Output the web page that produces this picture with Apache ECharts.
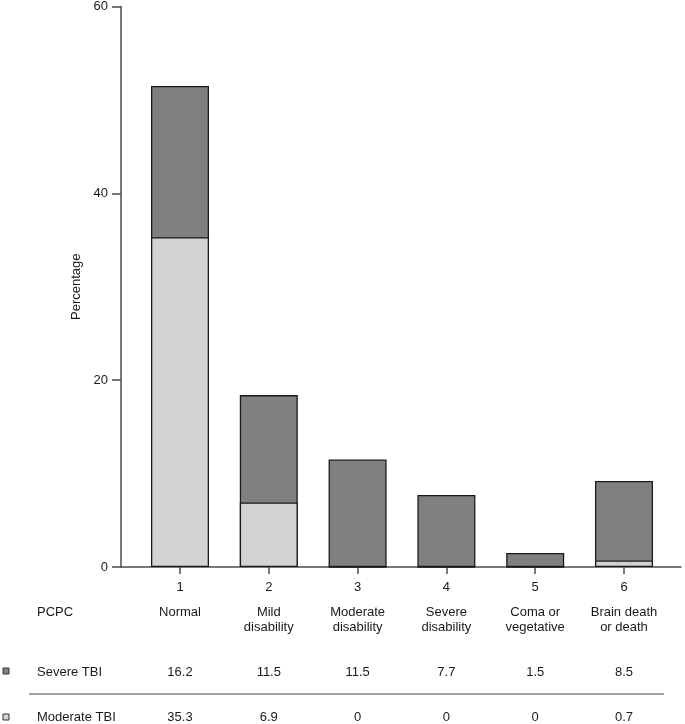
<!DOCTYPE html>
<html>
<head>
<meta charset="utf-8">
<script src="https://cdn.jsdelivr.net/npm/echarts@6/dist/echarts.min.js"></script>
<style>html,body{margin:0;padding:0;background:#fff}#c{width:685px;height:724px}</style>
</head>
<body>
<div id="c"></div>
<script>
var positions = [1, 2, 3, 4, 5, 6];
var pcpcNames = ['Normal', 'Mild\ndisability', 'Moderate\ndisability', 'Severe\ndisability', 'Coma or\nvegetative', 'Brain death\nor death'];
var severeTBI = [16.2, 11.5, 11.5, 7.7, 1.5, 8.5];
var moderateTBI = [35.3, 6.9, 0, 0, 0, 0.7];
var yTicks = [0, 20, 40, 60];
var rowHeader = 'PCPC';
var seriesNames = ['Severe TBI', 'Moderate TBI'];

var FONT = '"Liberation Sans", Arial, sans-serif';
var DARK = '#808080', LIGHT = '#d3d3d3', EDGE = '#1a1a1a', TXT = '#1a1a1a';

var chart = echarts.init(document.getElementById('c'), null, {renderer: 'canvas'});

// Stacked look: the severe segment sits on top of the moderate segment,
// so the dark bar spans 0..(moderate+severe) and the light bar 0..moderate is drawn over it.
var stackedTop = positions.map(function (p, i) { return [p, +(moderateTBI[i] + severeTBI[i]).toFixed(2)]; });
var lower = positions.map(function (p, i) { return [p, moderateTBI[i]]; });

chart.setOption({
  animation: false,
  backgroundColor: '#fff',
  grid: {left: 121, right: 4, top: 6, bottom: 157, containLabel: false},
  xAxis: {
    type: 'value', min: 0.3356, max: 6.642,
    splitLine: {show: false},
    axisLine: {show: true, lineStyle: {color: '#4d4d4d', width: 1.5}},
    axisTick: {show: true, length: 7, customValues: positions, lineStyle: {color: '#4d4d4d', width: 1.5}},
    axisLabel: {show: true, customValues: positions, margin: 14, fontSize: 13, color: TXT, fontFamily: FONT}
  },
  yAxis: {
    type: 'value', min: yTicks[0], max: yTicks[yTicks.length - 1], interval: 20,
    name: 'Percentage', nameLocation: 'middle', nameGap: 33,
    nameTextStyle: {fontSize: 13, color: TXT, fontFamily: FONT},
    splitLine: {show: false},
    axisLine: {show: true, lineStyle: {color: '#4d4d4d', width: 1.5}},
    axisTick: {show: true, length: 9, lineStyle: {color: '#4d4d4d', width: 1.5}},
    axisLabel: {margin: 13, fontSize: 13, color: TXT, fontFamily: FONT}
  },
  series: [
    {name: seriesNames[0], type: 'bar', barWidth: 58, barGap: '-100%', data: stackedTop, z: 2,
     itemStyle: {color: DARK, borderColor: EDGE, borderWidth: 1.3}},
    {name: seriesNames[1], type: 'bar', barWidth: 58, barGap: '-100%', data: lower, z: 3,
     itemStyle: {color: LIGHT, borderColor: EDGE, borderWidth: 1.3}}
  ]
});

var g = [];
var ts = function (t, x, y, align, extra) {
  var s = {text: t, x: x, y: y, fill: TXT, font: '13px ' + FONT, align: align || 'center', verticalAlign: 'middle'};
  if (extra) for (var k in extra) s[k] = extra[k];
  return {type: 'text', style: s, silent: true};
};
g.push(ts(rowHeader, 37, 612, 'left'));
g.push(ts(seriesNames[0], 37, 672, 'left'));
g.push(ts(seriesNames[1], 37, 717, 'left'));
g.push({type: 'rect', shape: {x: 3, y: 668, width: 6, height: 6}, style: {fill: DARK, stroke: '#333', lineWidth: 1}});
g.push({type: 'rect', shape: {x: 3, y: 714, width: 6, height: 6}, style: {fill: LIGHT, stroke: '#333', lineWidth: 1}});
g.push({type: 'line', shape: {x1: 29, y1: 694, x2: 664, y2: 694}, style: {stroke: '#444', lineWidth: 1.2}});
positions.forEach(function (p, i) {
  var px = chart.convertToPixel({xAxisIndex: 0}, p);
  g.push(ts(pcpcNames[i], px, 605, 'center', {verticalAlign: 'top', lineHeight: 15}));
  g.push(ts(String(severeTBI[i]), px, 672));
  g.push(ts(String(moderateTBI[i]), px, 717));
});
chart.setOption({graphic: g});
</script>
</body>
</html>
